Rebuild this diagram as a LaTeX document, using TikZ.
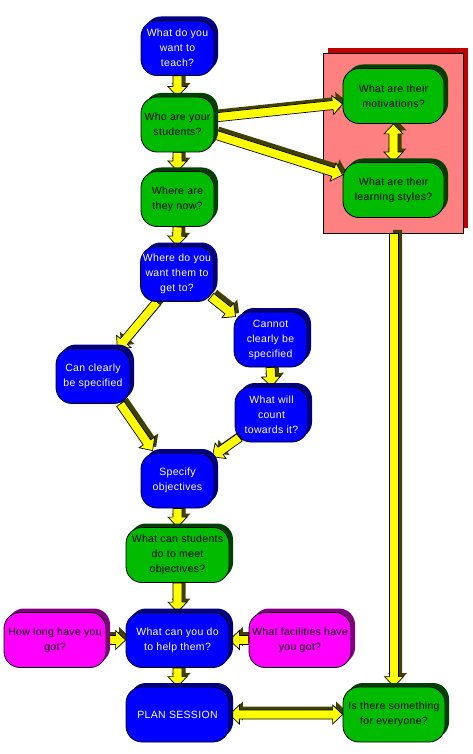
\documentclass[tikz,border=0pt]{standalone}
\usepackage{fontspec}
\setmainfont{Liberation Sans}[LetterSpace=3]
\usetikzlibrary{calc,shadows}
\definecolor{nblue}{HTML}{0000FF}
\definecolor{nnavy}{HTML}{000080}
\definecolor{ngreen}{HTML}{00BB00}
\definecolor{ndgreen}{HTML}{004000}
\definecolor{nmag}{HTML}{FF00FF}
\definecolor{npurp}{HTML}{800080}
\definecolor{npink}{HTML}{FF8080}
\definecolor{nred}{HTML}{C00000}
\definecolor{nyel}{HTML}{FFFF00}
\definecolor{nolive}{HTML}{404000}
\pgfdeclarelayer{back}
\pgfdeclarelayer{mid}
\pgfsetlayers{back,mid,main}
\tikzset{
  box/.style={draw=black, line width=0.8pt, rounded corners=16pt, minimum width=73pt,
    minimum height=55pt, align=center, inner sep=0pt,
    font=\fontsize{10.5}{15}\selectfont},
  wide/.style={minimum width=103pt},
  bluebox/.style={box, fill=nblue, text=white,
    general shadow={fill=nnavy, draw=none, shadow xshift=4pt, shadow yshift=4pt}},
  greenbox/.style={box, fill=ngreen, text=black,
    general shadow={fill=ndgreen, draw=none, shadow xshift=4pt, shadow yshift=4pt}},
  magbox/.style={box, fill=nmag, text=black,
    general shadow={fill=npurp, draw=none, shadow xshift=4pt, shadow yshift=4pt}},
  groupbox/.style={draw=black, line width=0.8pt, fill=npink, minimum width=140pt,
    minimum height=180pt, inner sep=0pt,
    general shadow={fill=nred, draw=none, shadow xshift=5pt, shadow yshift=5pt}},
  arrmain/.style={fill=nyel, draw=black, line width=0.7pt, line join=miter},
  arrdark/.style={fill=nolive, draw=none}
}
\newcommand\blksingle[1]{\path[#1] ($(aS)!4.5pt!90:(aE)$) -- ($(aH)!4.5pt!90:(aE)$) -- ($(aH)!9.5pt!90:(aE)$) -- (aE) -- ($(aH)!9.5pt!-90:(aE)$) -- ($(aH)!4.5pt!-90:(aE)$) -- ($(aS)!4.5pt!-90:(aE)$) -- cycle;}
\newcommand\blkdouble[1]{\path[#1] (aS) -- ($(aHa)!9.5pt!90:(aE)$) -- ($(aHa)!4.5pt!90:(aE)$) -- ($(aH)!4.5pt!90:(aE)$) -- ($(aH)!9.5pt!90:(aE)$) -- (aE) -- ($(aH)!9.5pt!-90:(aE)$) -- ($(aH)!4.5pt!-90:(aE)$) -- ($(aHa)!4.5pt!-90:(aE)$) -- ($(aHa)!9.5pt!-90:(aE)$) -- cycle;}
\newcommand\blkarrow[2]{%
  \coordinate (aS) at (#1);
  \coordinate (aE) at (#2);
  \coordinate (aH) at ($(aE)!10pt!(aS)$);
  \begin{scope}[transform canvas={shift={(3.5pt,3.5pt)}}]\blksingle{arrdark}\end{scope}
  \blksingle{arrmain}}
\newcommand\blkdarrow[2]{%
  \coordinate (aS) at (#1);
  \coordinate (aE) at (#2);
  \coordinate (aH) at ($(aE)!10pt!(aS)$);
  \coordinate (aHa) at ($(aS)!10pt!(aE)$);
  \begin{scope}[transform canvas={shift={(3.5pt,3.5pt)}}]\blkdouble{arrdark}\end{scope}
  \blkdouble{arrmain}}
\begin{document}
\begin{tikzpicture}[x=1pt,y=-1pt]
\useasboundingbox (0,0) rectangle (472,754);
\begin{pgfonlayer}{back}
\node[groupbox] (grp) at (393,143) {};
\end{pgfonlayer}
% nodes
\node[bluebox] (teach) at (177.5,48) {What do you\\want to\\teach?};
\node[greenbox] (who) at (177.5,124.5) {Who are your\\students?};
\node[greenbox] (where) at (177.5,199) {Where are\\they now?};
\node[bluebox] (getto) at (177,274) {Where do you\\want them to\\get to?};
\node[bluebox] (cannot) at (270.5,339.5) {Cannot\\clearly be\\specified};
\node[bluebox] (count) at (271.5,414.5) {What will\\count\\towards it?};
\node[bluebox, minimum width=74pt] (can) at (93,376) {Can clearly\\be specified};
\node[bluebox] (specify) at (177.5,480.5) {Specify\\objectives};
\node[greenbox, wide] (students) at (177.5,555) {What can students\\do to meet\\objectives?};
\node[bluebox, wide] (help) at (177.5,640) {What can you do\\to help them?};
\node[magbox, minimum width=102pt] (howlong) at (55,640) {How long have you\\got?};
\node[magbox, minimum width=102pt] (facil) at (300,640) {What facilities have\\you got?};
\node[bluebox, wide] (plan) at (177.5,714.5) {PLAN SESSION};
\node[greenbox, minimum width=102pt] (every) at (394,714.5) {Is there something\\for everyone?};
\node[greenbox, minimum width=101pt] (mot) at (393.5,96) {What are their\\motivations?};
\node[greenbox, minimum width=101pt] (learn) at (393.5,190) {What are their\\learning styles?};
% connectors
\begin{pgfonlayer}{mid}
\blkarrow{teach.south}{who.north}
\blkarrow{who.south}{where.north}
\blkarrow{where.south}{getto.north}
\blkarrow{$(getto.south)+(-20,0)$}{$(can.north east)+(-13,1)$}
\blkarrow{$(getto.south east)+(-3,-5)$}{$(cannot.north west)+(2,5)$}
\blkarrow{cannot.south}{count.north}
\blkarrow{$(can.south east)+(-10,0)$}{$(specify.north west)+(12,-2)$}
\blkarrow{$(count.south west)+(5,-5)$}{$(specify.north east)+(-2,4)$}
\blkarrow{specify.south}{students.north}
\blkarrow{students.south}{help.north}
\blkarrow{howlong.east}{help.west}
\blkarrow{facil.west}{help.east}
\blkarrow{help.south}{plan.north}
\blkdarrow{plan.east}{every.west}
\blkarrow{every.north |- grp.south}{every.north}
\blkdarrow{mot.south}{learn.north}
\blkarrow{$(who.east)+(0,-7)$}{$(mot.west)+(0,8)$}
\blkarrow{$(who.east)+(0,10)$}{$(learn.west)+(0,-15)$}
\end{pgfonlayer}
\end{tikzpicture}
\end{document}
